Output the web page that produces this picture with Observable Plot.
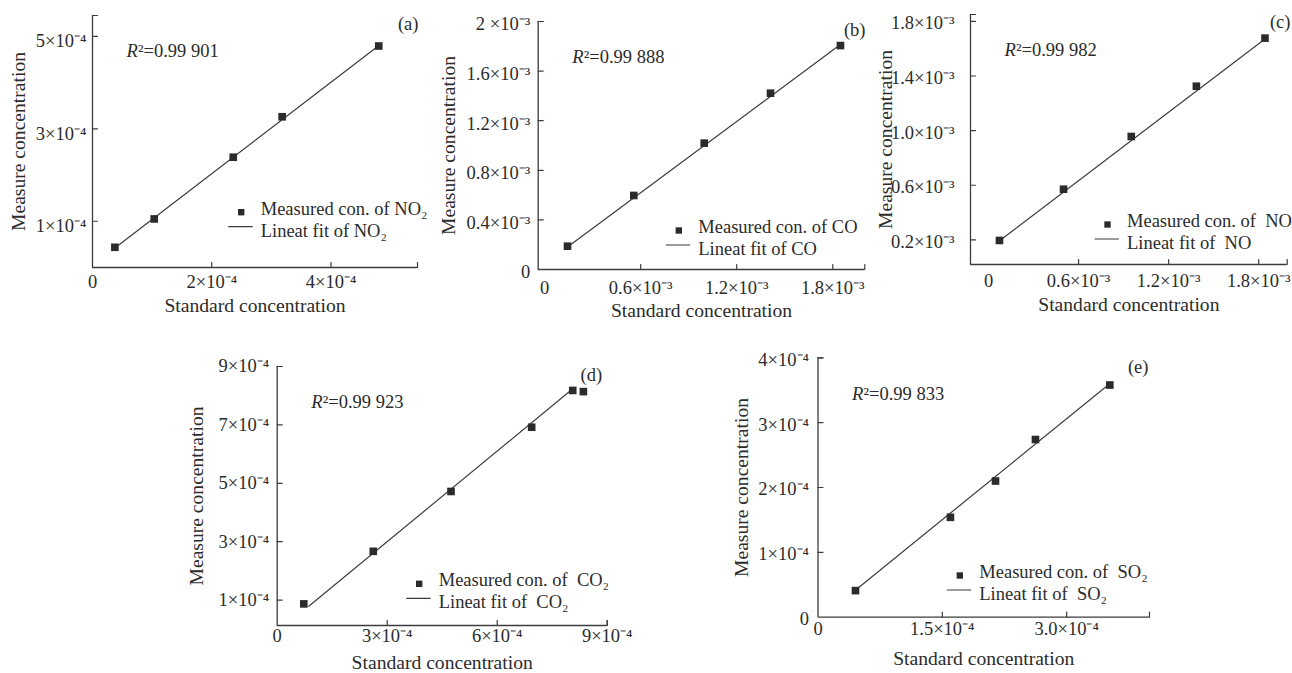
<!DOCTYPE html>
<html><head><meta charset="utf-8">
<script src="https://cdn.jsdelivr.net/npm/d3@7"></script>
<script src="https://cdn.jsdelivr.net/npm/@observablehq/plot@0.6"></script>
<style>
body{margin:0;background:#fff;}
#fig{position:relative;width:1292px;height:673px;overflow:hidden;background:#fff;}
#fig > svg, #fig > figure{position:absolute;margin:0;}
</style></head><body><div id="fig"></div>
<script>
// ---------- Panel (a): NO2 ----------
const aStd  = [0.375e-4, 1.035e-4, 2.36e-4, 3.18e-4, 4.80e-4];
const aMeas = [0.437e-4, 1.05e-4, 2.385e-4, 3.26e-4, 4.79e-4];
const aFitX = [0.43e-4, 4.77e-4];
const aFitY = [0.474e-4, 4.77e-4];
const aXDomain = [0, 5.45e-4];
const aYDomain = [0, 5.45e-4];
const aXTicks = [0, 2e-4, 4e-4];
const aXLabels = ["0", "2×10⁻⁴", "4×10⁻⁴"];
const aYTicks = [1e-4, 3e-4, 5e-4];
const aYLabels = ["1×10⁻⁴", "3×10⁻⁴", "5×10⁻⁴"];
const aR2 = "²=0.99 901";
const aTag = "(a)";
const aLegend = ["Measured con. of NO₂", "Lineat fit of NO₂"];

// ---------- Panel (b): CO ----------
const bStd  = [0.143e-3, 0.557e-3, 0.997e-3, 1.411e-3, 1.848e-3];
const bMeas = [0.188e-3, 0.597e-3, 1.019e-3, 1.422e-3, 1.806e-3];
const bFitX = [0.162e-3, 1.831e-3];
const bFitY = [0.199e-3, 1.798e-3];
const bXDomain = [-0.04e-3, 2.0e-3];
const bYDomain = [0, 2.0e-3];
const bXTicks = [0, 0.6e-3, 1.2e-3, 1.8e-3];
const bXLabels = ["0", "0.6×10⁻³", "1.2×10⁻³", "1.8×10⁻³"];
const bYTicks = [0, 0.4e-3, 0.8e-3, 1.2e-3, 1.6e-3, 2.0e-3];
const bYLabels = ["0", "0.4×10⁻³", "0.8×10⁻³", "1.2×10⁻³", "1.6×10⁻³", "2 ×10⁻³"];
const bR2 = "²=0.99 888";
const bTag = "(b)";
const bLegend = ["Measured con. of CO", "Lineat fit of CO"];

// ---------- Panel (c): NO ----------
const cStd  = [0.073e-3, 0.500e-3, 0.951e-3, 1.385e-3, 1.842e-3];
const cMeas = [0.196e-3, 0.571e-3, 0.957e-3, 1.325e-3, 1.677e-3];
const cFitX = [0.091e-3, 1.835e-3];
const cFitY = [0.208e-3, 1.665e-3];
const cXDomain = [-0.12e-3, 1.99e-3];
const cYDomain = [0.02e-3, 1.85e-3];
const cXTicks = [0, 0.6e-3, 1.2e-3, 1.8e-3];
const cXLabels = ["0", "0.6×10⁻³", "1.2×10⁻³", "1.8×10⁻³"];
const cYTicks = [0.2e-3, 0.6e-3, 1.0e-3, 1.4e-3, 1.8e-3];
const cYLabels = ["0.2×10⁻³", "0.6×10⁻³", "1.0×10⁻³", "1.4×10⁻³", "1.8×10⁻³"];
const cR2 = "²=0.99 982";
const cTag = "(c)";
const cLegend = ["Measured con. of  NO", "Lineat fit of  NO"];

// ---------- Panel (d): CO2 ----------
const dStd  = [0.725e-4, 2.62e-4, 4.74e-4, 6.94e-4, 8.06e-4, 8.35e-4];
const dMeas = [0.87e-4, 2.67e-4, 4.72e-4, 6.92e-4, 8.18e-4, 8.14e-4];
const dFitX = [0.86e-4, 7.98e-4];
const dFitY = [0.79e-4, 8.15e-4];
const dXDomain = [0, 9e-4];
const dYDomain = [0.13e-4, 9e-4];
const dXTicks = [0, 3e-4, 6e-4, 9e-4];
const dXLabels = ["0", "3×10⁻⁴", "6×10⁻⁴", "9×10⁻⁴"];
const dYTicks = [1e-4, 3e-4, 5e-4, 7e-4, 9e-4];
const dYLabels = ["1×10⁻⁴", "3×10⁻⁴", "5×10⁻⁴", "7×10⁻⁴", "9×10⁻⁴"];
const dR2 = "²=0.99 923";
const dTag = "(d)";
const dLegend = ["Measured con. of  CO₂", "Lineat fit of  CO₂"];

// ---------- Panel (e): SO2 ----------
const eStd  = [0.452e-4, 1.598e-4, 2.142e-4, 2.624e-4, 3.521e-4];
const eMeas = [0.41e-4, 1.54e-4, 2.10e-4, 2.74e-4, 3.58e-4];
const eFitX = [0.473e-4, 3.49e-4];
const eFitY = [0.438e-4, 3.57e-4];
const eXDomain = [0, 4e-4];
const eYDomain = [0, 4e-4];
const eXTicks = [0, 1.5e-4, 3.0e-4];
const eXLabels = ["0", "1.5×10⁻⁴", "3.0×10⁻⁴"];
const eYTicks = [0, 1e-4, 2e-4, 3e-4, 4e-4];
const eYLabels = ["0", "1×10⁻⁴", "2×10⁻⁴", "3×10⁻⁴", "4×10⁻⁴"];
const eR2 = "²=0.99 833";
const eTag = "(e)";
const eLegend = ["Measured con. of  SO₂", "Lineat fit of  SO₂"];

const xTitle = "Standard concentration";
const yTitle = "Measure concentration";

// ---------- layout (pixels) ----------
const panels = [
  {std: aStd, meas: aMeas, fitX: aFitX, fitY: aFitY, xd: aXDomain, yd: aYDomain, xt: aXTicks, xl: aXLabels, yt: aYTicks, yl: aYLabels, r2: aR2, tag: aTag, leg: aLegend,
   box: {left: 0, top: 0, w: 430, h: 325, ml: 92, mr: 13, mt: 15, mb: 58}, xpad: 7.5, ypad: 6, ydy: 5, yTitleDx: -74, xTitleDy: 38, tagDx: 1, tagDy: 8.3, lx: 148.7, ly: 196.7},
  {std: bStd, meas: bMeas, fitX: bFitX, fitY: bFitY, xd: bXDomain, yd: bYDomain, xt: bXTicks, xl: bXLabels, yt: bYTicks, yl: bYLabels, r2: bR2, tag: bTag, leg: bLegend,
   box: {left: 430, top: 0, w: 440, h: 325, ml: 107.7, mr: 5.7, mt: 21, mb: 56}, xpad: 11.5, ypad: 8, ydy: 3, yTitleDx: -89.4, xTitleDy: 41, tagDx: 0.7, tagDy: 8.3, lx: 140.6, ly: 209},
  {std: cStd, meas: cMeas, fitX: cFitX, fitY: cFitY, xd: cXDomain, yd: cYDomain, xt: cXTicks, xl: cXLabels, yt: cYTicks, yl: cYLabels, r2: cR2, tag: cTag, leg: cLegend,
   box: {left: 860, top: 0, w: 432, h: 325, ml: 110, mr: 5.3, mt: 14, mb: 61}, xpad: 9.5, ypad: 16, ydy: 2, yTitleDx: -85, xTitleDy: 40, tagDx: 3.3, tagDy: 7.7, lx: 137, ly: 210},
  {std: dStd, meas: dMeas, fitX: dFitX, fitY: dFitY, xd: dXDomain, yd: dYDomain, xt: dXTicks, xl: dXLabels, yt: dYTicks, yl: dYLabels, r2: dR2, tag: dTag, leg: dLegend,
   box: {left: 170, top: 340, w: 480, h: 333, ml: 106.7, mr: 43.3, mt: 26, mb: 48}, xpad: 3, ypad: 8, ydy: 0, yTitleDx: -80, xTitleDy: 37, tagDx: -5, tagDy: 9, lx: 142, ly: 217.3},
  {std: eStd, meas: eMeas, fitX: eFitX, fitY: eFitY, xd: eXDomain, yd: eYDomain, xt: eXTicks, xl: eXLabels, yt: eYTicks, yl: eYLabels, r2: eR2, tag: eTag, leg: eLegend,
   box: {left: 720, top: 340, w: 440, h: 333, ml: 97.5, mr: 11, mt: 17.3, mb: 56.3}, xpad: 4.5, ypad: 9, ydy: 2, yTitleDx: -75.8, xTitleDy: 41.6, tagDx: -1, tagDy: 9.4, lx: 141.8, ly: 217.7}
];

const INK = "#2b2b2b";
const LINE = "#3c3c3c";
const FONT = "'Liberation Serif', 'Times New Roman', serif";
const lineShape = {draw(context, l) { context.moveTo(0, 0); context.lineTo(0, -l); }};

const fig = document.getElementById("fig");

for (const p of panels) {
  const pts = p.std.map((x, i) => ({x, y: p.meas[i]}));
  const fit = p.fitX.map((x, i) => ({x, y: p.fitY[i]}));
  const xMarks = p.xt.filter(t => t !== 0).concat([p.xd[1]]);
  const yMarks = p.yt.filter(t => t !== 0).concat([p.yd[1]]);
  const xfmt = d => p.xl[p.xt.indexOf(d)];
  const yfmt = d => p.yl[p.yt.indexOf(d)];
  const b = p.box;
  const txt = {lineAnchor: "middle", fill: INK};

  const svg = Plot.plot({
    width: b.w, height: b.h,
    marginLeft: b.ml, marginRight: b.mr, marginTop: b.mt, marginBottom: b.mb,
    x: {domain: p.xd},
    y: {domain: p.yd},
    style: {fontFamily: FONT, color: INK, background: "transparent", overflow: "visible"},
    marks: [
      // axis lines
      Plot.ruleX([p.xd[0]], {stroke: LINE, strokeWidth: 1.3}),
      Plot.ruleY([p.yd[0]], {stroke: LINE, strokeWidth: 1.3}),
      // inward tick marks
      Plot.vector(xMarks, {x: d => d, frameAnchor: "bottom", rotate: 0, anchor: "start", length: 5, shape: lineShape, stroke: LINE, strokeWidth: 1.2}),
      Plot.vector(yMarks, {y: d => d, frameAnchor: "left", rotate: 90, anchor: "start", length: 5, shape: lineShape, stroke: LINE, strokeWidth: 1.2}),
      // tick labels
      Plot.axisX({ticks: p.xt, tickFormat: xfmt, tickSize: 0, tickPadding: p.xpad, fontSize: 18.5, fill: INK, label: null}),
      Plot.axisY({ticks: p.yt, tickFormat: yfmt, tickSize: 0, tickPadding: p.ypad, fontSize: 18.5, fill: INK, dy: p.ydy, label: null}),
      // axis titles
      Plot.text([xTitle], {...txt, text: d => d, frameAnchor: "bottom", dy: p.xTitleDy, fontSize: 19.6}),
      Plot.text([yTitle], {...txt, text: d => d, frameAnchor: "left", textAnchor: "middle", dx: p.yTitleDx, rotate: -90, fontSize: 19.6}),
      // fit line and points
      Plot.line(fit, {x: "x", y: "y", stroke: LINE, strokeWidth: 1.2}),
      Plot.dot(pts, {x: "x", y: "y", symbol: "square", r: 4.3, fill: INK, stroke: "none"}),
      // R^2 annotation
      Plot.text(["R"], {...txt, text: d => d, frameAnchor: "top-left", textAnchor: "start", dx: 34, dy: 36, fontStyle: "italic", fontSize: 18.5}),
      Plot.text([p.r2], {...txt, text: d => d, frameAnchor: "top-left", textAnchor: "start", dx: 45.5, dy: 36, fontSize: 18.5}),
      // panel tag
      Plot.text([p.tag], {...txt, text: d => d, frameAnchor: "top-right", textAnchor: "end", dx: p.tagDx, dy: p.tagDy, fontSize: 18.5}),
      // legend
      Plot.dot([0], {frameAnchor: "top-left", dx: p.lx, dy: p.ly, symbol: "square", r: 3.6, fill: INK, stroke: "none"}),
      Plot.text([p.leg[0]], {...txt, text: d => d, frameAnchor: "top-left", textAnchor: "start", dx: p.lx + 19.5, dy: p.ly - 3.5, fontSize: 18.5}),
      Plot.vector([0], {frameAnchor: "top-left", dx: p.lx - 12.5, dy: p.ly + 14.5, rotate: 90, anchor: "start", length: 23.5, shape: lineShape, stroke: LINE, strokeWidth: 1.2}),
      Plot.text([p.leg[1]], {...txt, text: d => d, frameAnchor: "top-left", textAnchor: "start", dx: p.lx + 19.5, dy: p.ly + 18.5, fontSize: 18.5})
    ]
  });
  svg.style.left = b.left + "px";
  svg.style.top = b.top + "px";
  svg.style.position = "absolute";
  fig.appendChild(svg);
}
</script>
</body></html>
